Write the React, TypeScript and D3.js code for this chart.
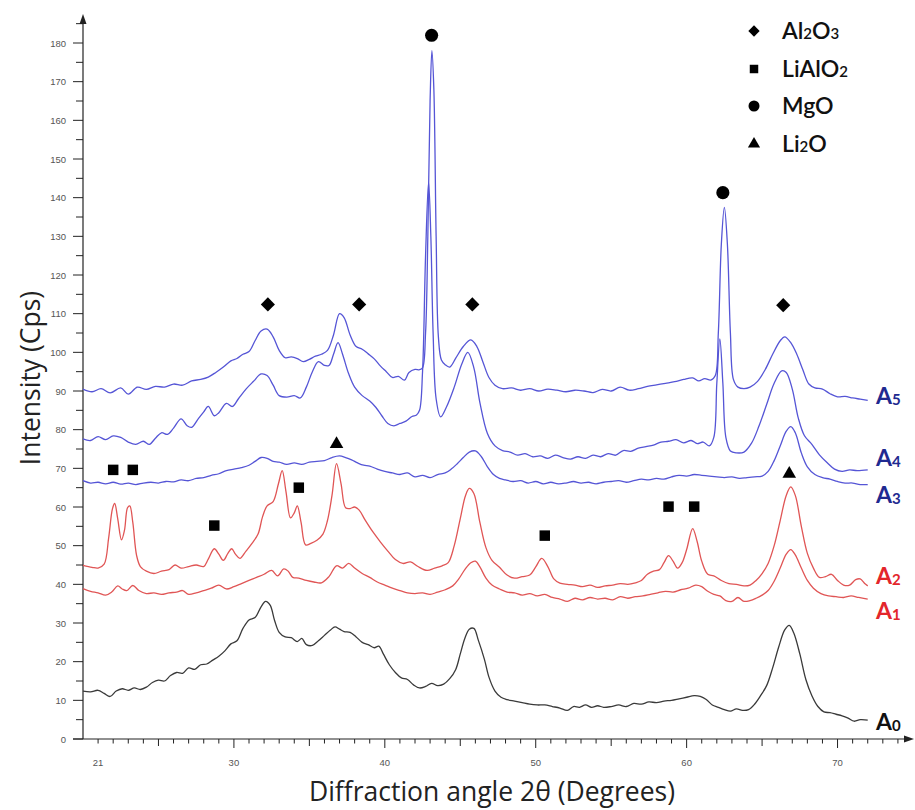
import React from "react";
import * as d3 from "d3";

// 2θ (degrees) vs intensity (cps) for each sample
const A0: [number, number][] = [[20.0,12.4],[20.5,12.2],[21.0,12.6],[21.4,11.8],[21.8,11.0],[22.2,12.4],[22.6,13.0],[23.0,12.6],[23.4,13.2],[23.8,12.8],[24.2,13.4],[24.6,14.6],[25.0,15.2],[25.4,15.0],[25.8,16.4],[26.2,17.2],[26.6,17.0],[27.0,18.4],[27.4,18.0],[27.8,19.2],[28.2,19.4],[28.6,20.4],[29.0,21.4],[29.4,22.8],[29.8,24.6],[30.2,25.4],[30.6,28.6],[31.0,30.8],[31.4,31.4],[31.8,34.2],[32.1,35.6],[32.4,34.6],[32.7,30.6],[33.0,27.6],[33.4,26.4],[33.8,26.2],[34.2,25.2],[34.5,26.0],[34.8,24.4],[35.2,24.2],[35.6,25.4],[36.0,26.8],[36.4,28.2],[36.7,29.0],[37.0,28.4],[37.3,27.8],[37.7,27.6],[38.1,26.4],[38.5,25.0],[38.9,24.4],[39.3,23.6],[39.6,24.0],[39.9,22.0],[40.3,19.2],[40.7,17.2],[41.1,15.8],[41.5,15.4],[41.9,14.0],[42.3,13.2],[42.7,13.6],[43.1,14.4],[43.5,13.8],[43.9,14.2],[44.3,15.6],[44.7,18.0],[45.0,22],[45.3,26],[45.6,28.4],[45.9,28.6],[46.2,25.5],[46.6,20.6],[46.9,16],[47.3,12.4],[47.7,10.8],[48.1,10.2],[48.6,9.8],[49.1,9.4],[49.6,9.0],[50.1,8.8],[50.6,8.8],[51.1,8.4],[51.6,8.0],[52.1,7.4],[52.5,8.4],[52.9,8.2],[53.3,8.8],[53.7,8.2],[54.1,8.6],[54.5,8.2],[55.0,8.4],[55.5,8.8],[56.0,8.4],[56.5,9.2],[57.0,9.0],[57.5,9.6],[58.0,9.4],[58.5,9.8],[59.0,10.0],[59.5,10.4],[60.0,10.8],[60.5,11.2],[60.9,11.0],[61.3,10.2],[61.7,8.8],[62.1,8.2],[62.5,7.6],[62.9,7.2],[63.3,7.8],[63.7,7.4],[64.1,7.6],[64.5,9.0],[64.9,11.2],[65.3,13.8],[65.7,18.4],[66.1,23.8],[66.5,28.2],[66.8,29.4],[67.1,27.4],[67.5,22.0],[67.9,15.4],[68.3,11.2],[68.7,8.4],[69.1,7.0],[69.5,6.8],[69.9,6.4],[70.3,6.0],[70.7,5.4],[71.1,4.6],[71.5,5.0],[72.0,4.9]];

const A1: [number, number][] = [[20.0,38.9],[20.5,38.2],[21.0,37.8],[21.5,37.2],[21.9,38.0],[22.3,39.6],[22.6,38.8],[22.9,38.4],[23.3,39.7],[23.7,38.4],[24.2,37.6],[24.7,37.8],[25.2,37.4],[25.7,37.8],[26.2,38.0],[26.6,38.4],[27.0,37.4],[27.5,37.8],[28.0,38.4],[28.5,39.0],[29.0,39.8],[29.5,38.8],[30.0,39.4],[30.5,40.2],[31.0,41.0],[31.5,41.8],[32.0,42.6],[32.5,43.6],[32.9,42.2],[33.3,44.0],[33.6,43.4],[33.9,41.8],[34.3,41.6],[34.8,41.0],[35.3,40.6],[35.8,40.4],[36.3,42.0],[36.8,44.8],[37.2,44.2],[37.6,45.4],[38.0,44.2],[38.5,42.8],[39.0,41.8],[39.5,40.6],[40.0,39.8],[40.5,39.0],[41.0,38.4],[41.5,37.8],[42.0,37.6],[42.5,37.8],[43.0,37.4],[43.5,38.0],[44.0,38.6],[44.5,39.6],[44.9,41.4],[45.3,43.8],[45.7,45.6],[46.0,46.0],[46.3,44.5],[46.7,41.6],[47.1,39.8],[47.6,38.8],[48.1,38.0],[48.6,37.8],[49.1,37.2],[49.6,37.6],[50.1,37.0],[50.6,37.4],[51.1,36.6],[51.6,36.2],[52.1,35.6],[52.6,36.4],[53.1,36.0],[53.6,36.6],[54.1,36.2],[54.6,36.4],[55.1,36.0],[55.6,36.8],[56.1,36.4],[56.6,36.8],[57.1,37.0],[57.6,37.4],[58.1,37.8],[58.6,38.2],[59.1,38.0],[59.6,38.6],[60.1,39.0],[60.6,39.8],[61.0,39.4],[61.4,38.2],[61.8,37.4],[62.2,37.0],[62.6,35.8],[63.0,35.6],[63.4,36.6],[63.8,35.6],[64.2,35.8],[64.6,36.4],[65.0,37.2],[65.4,38.4],[65.8,40.8],[66.2,44.2],[66.6,47.8],[66.9,49.0],[67.2,47.6],[67.6,44.2],[68.0,41.0],[68.4,39.0],[68.9,37.6],[69.4,37.0],[69.9,36.8],[70.4,36.6],[70.9,37.0],[71.4,36.6],[72.0,36.2]];

const A2: [number, number][] = [[20.0,44.9],[20.6,44.4],[21.0,44.2],[21.4,45.2],[21.7,52],[21.95,59.5],[22.1,60.9],[22.3,57],[22.55,51.5],[22.75,54],[22.95,59.8],[23.1,60.3],[23.3,56],[23.55,47.5],[23.8,44.6],[24.2,43.4],[24.7,42.8],[25.2,43.4],[25.7,43.8],[26.1,45.0],[26.5,44.2],[27.0,44.6],[27.5,45.0],[28.0,44.6],[28.3,46.5],[28.7,49.2],[29.0,47.8],[29.3,46.2],[29.6,48.0],[29.85,49.2],[30.1,47.8],[30.4,46.7],[30.8,48.6],[31.2,50.6],[31.6,53],[31.9,57.5],[32.2,60.3],[32.6,61.4],[32.95,66],[33.2,69.4],[33.45,64],[33.75,57.2],[34.0,58.5],[34.2,60.3],[34.45,56],[34.75,50.2],[35.1,50.6],[35.5,51.4],[35.9,53.0],[36.2,56.5],[36.5,63],[36.8,71.2],[37.1,66],[37.4,59.8],[37.7,59.6],[38.0,60.0],[38.3,59.2],[38.7,56.6],[39.2,53.6],[39.7,51.0],[40.2,48.6],[40.7,46.4],[41.2,45.4],[41.7,45.8],[42.2,44.6],[42.8,43.6],[43.3,44.2],[43.8,44.8],[44.2,45.6],[44.6,50],[45.0,57],[45.35,63],[45.6,64.8],[45.9,63.5],[46.3,56],[46.7,49.5],[47.1,46.2],[47.6,44.4],[48.1,42.4],[48.6,41.6],[49.1,42.0],[49.6,42.4],[50.0,44.5],[50.4,46.7],[50.8,44.6],[51.2,41.4],[51.6,40.3],[52.1,40.0],[52.6,39.8],[53.1,39.4],[53.6,39.8],[54.1,39.2],[54.6,39.6],[55.1,39.8],[55.6,40.2],[56.1,40.0],[56.6,40.4],[57.0,41.0],[57.4,42.6],[57.8,43.4],[58.2,43.8],[58.5,45.6],[58.8,47.4],[59.1,46.0],[59.4,44.2],[59.7,45.6],[60.0,49],[60.4,54.4],[60.7,51],[61.0,46],[61.4,42.6],[61.8,42.2],[62.3,41.0],[62.8,40.2],[63.3,40.0],[63.8,39.6],[64.2,39.8],[64.6,41],[65.0,42.8],[65.4,45.4],[65.8,50],[66.2,56.5],[66.6,63],[66.9,65.2],[67.2,63],[67.6,55],[68.0,48],[68.4,44.2],[68.8,41.8],[69.2,42.0],[69.6,42.6],[70.0,41.0],[70.4,39.8],[70.8,39.8],[71.2,41.2],[71.5,41.4],[71.8,40.2],[72.0,39.6]];

const A3: [number, number][] = [[20.0,66.8],[20.5,66.2],[21.0,66.4],[21.5,66.0],[22.0,66.4],[22.5,65.9],[23.0,66.2],[23.5,65.8],[24.0,66.2],[24.5,66.4],[25.0,66.2],[25.5,66.6],[26.0,66.5],[26.5,67.0],[27.0,66.8],[27.5,67.4],[28.0,67.6],[28.5,68.2],[29.0,68.6],[29.5,69.4],[30.0,69.8],[30.5,70.2],[31.0,70.8],[31.4,71.8],[31.8,72.8],[32.2,72.6],[32.6,71.8],[33.0,71.6],[33.5,71.0],[34.0,71.4],[34.5,71.0],[35.0,71.6],[35.5,71.8],[36.0,72.0],[36.5,72.8],[37.0,73.2],[37.4,72.8],[37.8,72.2],[38.2,71.4],[38.6,70.8],[39.0,70.6],[39.5,69.8],[40.0,69.2],[40.5,68.8],[41.0,68.4],[41.5,68.8],[42.0,67.8],[42.5,68.2],[43.0,67.6],[43.5,68.4],[44.0,68.8],[44.4,69.8],[44.8,71.2],[45.2,72.8],[45.6,74.2],[46.0,74.5],[46.4,73.0],[46.8,70.4],[47.2,68.4],[47.6,67.4],[48.0,67.0],[48.5,66.6],[49.0,66.8],[49.5,66.2],[50.0,66.6],[50.5,66.0],[51.0,66.4],[51.5,66.0],[52.0,66.2],[52.5,66.6],[53.0,66.2],[53.5,66.4],[54.0,66.0],[54.5,66.4],[55.0,66.6],[55.5,66.8],[56.0,66.4],[56.5,66.8],[57.0,67.2],[57.5,67.0],[58.0,67.4],[58.5,67.2],[59.0,67.8],[59.5,68.2],[60.0,68.0],[60.5,68.4],[61.0,68.2],[61.5,68.0],[62.0,67.8],[62.5,67.6],[63.0,67.8],[63.5,67.4],[64.0,67.6],[64.5,67.8],[65.0,68.0],[65.4,69.2],[65.8,72.0],[66.2,75.8],[66.6,79.6],[66.9,80.8],[67.2,79.2],[67.6,74.0],[68.0,70.4],[68.5,68.4],[69.0,67.6],[69.5,67.2],[70.0,66.6],[70.5,66.2],[71.0,66.2],[71.5,65.8],[72.0,65.8]];

const A4: [number, number][] = [[20.0,77.6],[20.5,77.2],[21.0,78.2],[21.5,77.4],[22.0,78.4],[22.5,78.0],[23.0,76.8],[23.5,76.2],[24.0,77.0],[24.4,76.2],[24.8,77.8],[25.2,79.2],[25.6,78.8],[26.0,80.4],[26.5,82.8],[26.9,81.0],[27.2,80.6],[27.6,82.6],[28.0,84.6],[28.3,86.0],[28.7,83.6],[29.0,84.4],[29.5,86.8],[29.9,86.0],[30.3,88.0],[30.8,90.5],[31.3,92.5],[31.8,94.4],[32.2,94.0],[32.6,91.5],[33.0,88.8],[33.5,88.4],[34.0,88.8],[34.4,88.2],[34.8,91],[35.2,95],[35.6,97.6],[36.0,96.6],[36.3,96.6],[36.6,99.5],[36.9,102.5],[37.2,99.5],[37.6,94.5],[38.0,91.0],[38.5,88.8],[39.0,87.4],[39.4,85.8],[39.8,83.6],[40.2,81.6],[40.6,81.0],[41.0,81.6],[41.4,82.2],[41.8,83.4],[42.1,83.8],[42.3,85],[42.5,95],[42.7,125],[42.9,144],[43.05,130],[43.2,105],[43.4,88],[43.7,83.3],[44.1,86],[44.6,91],[45.1,97],[45.5,100],[45.9,96],[46.3,87],[46.8,79],[47.3,75.8],[47.8,74.6],[48.3,74.2],[48.8,73.4],[49.3,73.8],[49.8,73.0],[50.3,73.2],[50.8,72.6],[51.3,73.4],[51.8,72.8],[52.3,72.4],[52.8,73.0],[53.3,72.6],[53.8,73.4],[54.3,73.0],[54.8,73.8],[55.3,73.4],[55.8,74.6],[56.3,74.4],[56.8,75.2],[57.3,75.6],[57.8,76.0],[58.3,76.8],[58.8,77.0],[59.3,77.4],[59.8,76.6],[60.3,77.2],[60.7,76.4],[61.1,76.8],[61.5,75.8],[61.8,78],[62.0,92],[62.2,103.5],[62.4,92],[62.6,78],[62.9,74.5],[63.3,74.0],[63.8,74.2],[64.3,76.5],[64.8,81],[65.3,86.5],[65.8,92],[66.3,95.2],[66.6,94.8],[67.0,90.5],[67.4,83],[67.8,78.5],[68.3,76.2],[68.8,73.5],[69.3,71.5],[69.8,69.8],[70.3,69.2],[70.8,69.6],[71.3,69.4],[72.0,69.6]];

const A5: [number, number][] = [[20.0,90.5],[20.6,89.8],[21.2,90.6],[21.8,89.5],[22.5,90.8],[23.0,89.2],[23.6,91.0],[24.2,90.4],[24.8,91.2],[25.4,91.0],[26.0,91.8],[26.6,91.5],[27.2,92.6],[27.8,93.0],[28.3,93.6],[28.8,94.8],[29.3,96.2],[29.8,97.8],[30.2,98.4],[30.6,99.5],[31.0,100.2],[31.4,103],[31.8,105.5],[32.2,106],[32.6,104],[33.0,100.5],[33.4,98.6],[33.8,98.8],[34.2,98.4],[34.6,97.6],[35.0,98.2],[35.4,99.0],[35.8,99.5],[36.2,100.5],[36.6,104.5],[37.0,110],[37.3,109],[37.7,104.5],[38.1,101.5],[38.5,100.8],[38.9,99.6],[39.3,98.3],[39.7,96.5],[40.1,95.0],[40.5,93.5],[40.9,93.8],[41.3,92.8],[41.6,94.8],[42.0,95.6],[42.3,95.5],[42.5,96],[42.7,105],[42.85,130],[43.0,165],[43.12,178],[43.25,168],[43.4,130],[43.55,104],[43.75,98],[44.0,96.8],[44.3,96.2],[44.7,98.5],[45.2,101.5],[45.7,103.2],[46.1,101.5],[46.5,97.5],[46.9,93.5],[47.3,91.5],[47.8,90.6],[48.4,90.8],[49.0,90.2],[49.6,90.6],[50.2,90.0],[50.8,90.5],[51.4,90.2],[52.0,89.8],[52.6,90.2],[53.2,90.0],[53.8,89.6],[54.4,90.4],[55.0,90.0],[55.6,91.0],[56.2,90.2],[56.8,90.6],[57.4,91.2],[58.0,91.6],[58.6,92.0],[59.2,92.4],[59.8,93.0],[60.4,93.4],[60.8,92.6],[61.2,93.2],[61.6,92.8],[61.9,94],[62.1,105],[62.3,128],[62.5,137.5],[62.7,128],[62.9,105],[63.1,93],[63.4,91],[63.8,90.6],[64.2,91.0],[64.7,92.5],[65.2,95.5],[65.7,99.5],[66.2,103],[66.5,104],[66.9,102.5],[67.3,99.5],[67.7,95.5],[68.1,91.8],[68.5,90.8],[69.0,90.5],[69.5,89.3],[70.0,88.5],[70.5,88.6],[71.0,88.2],[71.5,87.9],[72.0,87.6]];

// phase reflections: [2θ, intensity at marker]
const AL2O3_PEAKS: [number, number][] = [[32.25,112.4],[38.3,112.4],[45.8,112.4],[66.4,112.2]];
const LIALO2_PEAKS: [number, number][] = [[22.0,69.6],[23.3,69.6],[28.7,55.2],[34.3,65.0],[50.6,52.6],[58.8,60.1],[60.5,60.1]];
const MGO_PEAKS: [number, number][] = [[43.1,182],[62.4,141.3]];
const LI2O_PEAKS: [number, number][] = [[36.8,76.3],[66.8,68.6]];

const X_TICK_LABELS = [21, 30, 40, 50, 60, 70];
const Y_TICK_LABELS = [0, 10, 20, 30, 40, 50, 60, 70, 80, 90, 100, 110, 120, 130, 140, 150, 160, 170, 180];

const SERIES = [
  { name: "A0", idx: "0", data: A0, line: "#3a3a3a", text: "#111111", labelAt: 4.3 },
  { name: "A1", idx: "1", data: A1, line: "#e05555", text: "#e3262b", labelAt: 33.2 },
  { name: "A2", idx: "2", data: A2, line: "#e05555", text: "#e3262b", labelAt: 42.2 },
  { name: "A3", idx: "3", data: A3, line: "#5555d6", text: "#1f2a90", labelAt: 63.0 },
  { name: "A4", idx: "4", data: A4, line: "#5555d6", text: "#1f2a90", labelAt: 72.6 },
  { name: "A5", idx: "5", data: A5, line: "#5555d6", text: "#1f2a90", labelAt: 88.8 },
];

const W = 915;
const H = 810;
const X0 = 83;
const XAXIS_Y = 739;

export default function App() {
  const x = d3.scaleLinear().domain([20, 75]).range([X0, 913]);
  const y = d3.scaleLinear().domain([0, 180]).range([XAXIS_Y, 43]);
  const line = d3
    .line<[number, number]>()
    .x((d) => x(d[0]))
    .y((d) => y(d[1]))
    .curve(d3.curveCatmullRom.alpha(0.5));

  const diamond = d3.symbol(d3.symbolSquare, 100)();
  const square = d3.symbol(d3.symbolSquare, 110)();
  const circle = d3.symbol(d3.symbolCircle, 135)();
  const triangle = d3.symbol(d3.symbolTriangle, 80)();

  const diamondL = d3.symbol(d3.symbolSquare, 64)();
  const squareL = d3.symbol(d3.symbolSquare, 72)();
  const circleL = d3.symbol(d3.symbolCircle, 95)();
  const triangleL = d3.symbol(d3.symbolTriangle, 64)();

  const xMinor = d3.range(21, 75, 1);
  const yMinor = d3.range(0, 186, 5);

  const tickFont = "'Liberation Sans', Arial, sans-serif";
  const titleFont = "'Open Sans', 'Noto Sans', sans-serif";
  const legendFont = "Lato, 'Noto Sans', sans-serif";

  const legend = [
    { sym: diamondL, rot: 45, main: ["Al", "2", "O", "3"] },
    { sym: squareL, rot: 0, main: ["LiAlO", "2"] },
    { sym: circleL, rot: 0, main: ["MgO"] },
    { sym: triangleL, rot: 0, main: ["Li", "2", "O"] },
  ];
  const legendY = [31, 69, 106, 144];

  return (
    <svg width={W} height={H} style={{ position: "absolute", left: 0, top: 0, background: "#fff" }}>
      <rect width={W} height={H} fill="#fff" />

      {/* axes */}
      <g stroke="#222" strokeWidth={1.2} fill="none">
        <line x1={X0} y1={XAXIS_Y} x2={X0} y2={18} />
        <line x1={X0 - 10} y1={XAXIS_Y} x2={908} y2={XAXIS_Y} />
      </g>
      <path d={`M${X0 - 3.5},${24} L${X0},${14} L${X0 + 3.5},${24} Z`} fill="#222" />
      <path d={`M${904},${XAXIS_Y - 3.5} L${914},${XAXIS_Y} L${904},${XAXIS_Y + 3.5} Z`} fill="#222" />

      {/* y ticks */}
      <g stroke="#222" strokeWidth={1}>
        {yMinor.map((v) => (
          <line key={v} x1={v % 10 === 0 ? X0 - 10 : X0 - 7} x2={X0} y1={y(v)} y2={y(v)} />
        ))}
      </g>
      <g fontFamily={tickFont} fontSize={9.5} fill="#555" textAnchor="end">
        {Y_TICK_LABELS.map((v) => (
          <text key={v} x={X0 - 17} y={y(v) + 3.5}>{v}</text>
        ))}
      </g>

      {/* x ticks */}
      <g stroke="#222" strokeWidth={1}>
        {xMinor.map((v) => (
          <line
            key={v}
            x1={x(v)}
            x2={x(v)}
            y1={XAXIS_Y}
            y2={XAXIS_Y + (v % 10 === 0 ? 9 : v % 5 === 0 ? 7 : 4.5)}
          />
        ))}
      </g>
      <g fontFamily={tickFont} fontSize={9.5} fill="#555" textAnchor="middle">
        {X_TICK_LABELS.map((v) => (
          <text key={v} x={x(v)} y={XAXIS_Y + 27}>{v}</text>
        ))}
      </g>

      {/* axis titles */}
      <text
        x={492}
        y={801}
        textAnchor="middle"
        fontFamily={titleFont}
        fontSize={26.5}
        fill="#222"
      >
        Diffraction angle 2θ (Degrees)
      </text>
      <text
        transform={`translate(40,${378}) rotate(-90)`}
        textAnchor="middle"
        fontFamily={titleFont}
        fontSize={26.5}
        fill="#222"
      >
        Intensity (Cps)
      </text>

      {/* patterns */}
      <g fill="none" strokeWidth={1.3} strokeLinejoin="round">
        {SERIES.map((s) => (
          <path key={s.name} d={line(s.data) || ""} stroke={s.line} />
        ))}
      </g>

      {/* sample labels */}
      <g fontFamily={legendFont} fontWeight={700}>
        {SERIES.map((s) => (
          <text key={s.name} x={876} y={y(s.labelAt) + 8} fill={s.text} fontSize={23}>
            A
            <tspan fontSize={15} dy={1}>{s.idx}</tspan>
          </text>
        ))}
      </g>

      {/* phase markers */}
      <g fill="#000">
        {AL2O3_PEAKS.map((d, i) => (
          <path key={"d" + i} d={diamond || ""} transform={`translate(${x(d[0])},${y(d[1])}) rotate(45)`} />
        ))}
        {LIALO2_PEAKS.map((d, i) => (
          <path key={"s" + i} d={square || ""} transform={`translate(${x(d[0])},${y(d[1])})`} />
        ))}
        {MGO_PEAKS.map((d, i) => (
          <path key={"c" + i} d={circle || ""} transform={`translate(${x(d[0])},${y(d[1])})`} />
        ))}
        {LI2O_PEAKS.map((d, i) => (
          <path key={"t" + i} d={triangle || ""} transform={`translate(${x(d[0])},${y(d[1])})`} />
        ))}
      </g>

      {/* legend */}
      <g fontFamily={legendFont} fill="#111" fontWeight={600}>
        {legend.map((l, i) => (
          <g key={i}>
            <path d={l.sym || ""} transform={`translate(754,${legendY[i]}) rotate(${l.rot})`} fill="#000" />
            <text x={782} y={legendY[i] + 8} fontSize={23}>
              {l.main.map((part, j) =>
                /^[0-9]$/.test(part) ? (
                  <tspan key={j} fontSize={15}>{part}</tspan>
                ) : (
                  <tspan key={j}>{part}</tspan>
                )
              )}
            </text>
          </g>
        ))}
      </g>
    </svg>
  );
}
